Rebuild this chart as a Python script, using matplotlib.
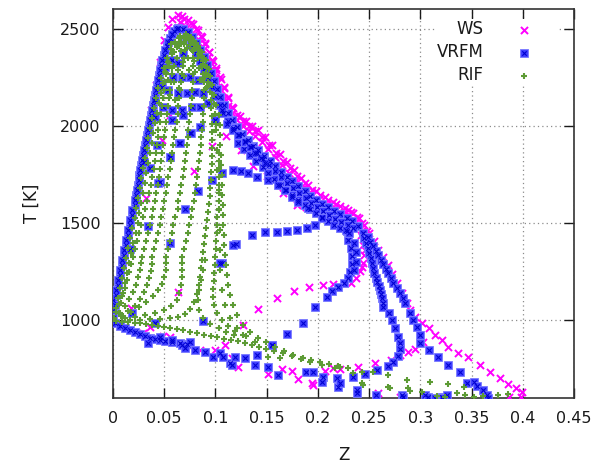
import numpy as np
import matplotlib
matplotlib.use("Agg")
import matplotlib.pyplot as plt
from matplotlib.legend_handler import HandlerTuple

plt.rcParams['font.family'] = ['DejaVu Sans']

# ---------------- WS ----------------
ws_edge = [(0.000, 1010), (0.005, 1155), (0.011, 1309), (0.017, 1464), (0.022, 1619),
           (0.027, 1773), (0.032, 1928), (0.037, 2083), (0.042, 2211), (0.046, 2330),
           (0.050, 2443), (0.054, 2510), (0.058, 2552), (0.063, 2572), (0.067, 2567),
           (0.073, 2547), (0.078, 2526), (0.083, 2495), (0.087, 2459), (0.090, 2428),
           (0.094, 2381), (0.097, 2340), (0.101, 2299), (0.104, 2253), (0.108, 2201),
           (0.112, 2150), (0.117, 2093), (0.124, 2052), (0.130, 2026), (0.136, 2000),
           (0.142, 1979), (0.148, 1943), (0.155, 1902), (0.163, 1856), (0.170, 1815),
           (0.177, 1773), (0.184, 1732), (0.190, 1696), (0.198, 1665), (0.207, 1634),
           (0.215, 1608), (0.222, 1588), (0.229, 1567), (0.234, 1552), (0.240, 1526),
           (0.245, 1490), (0.250, 1448), (0.255, 1407), (0.259, 1361), (0.264, 1325),
           (0.268, 1284), (0.272, 1237), (0.277, 1191), (0.282, 1139), (0.287, 1087),
           (0.290, 1052), (0.295, 1015), (0.302, 985), (0.308, 959), (0.314, 923),
           (0.321, 897), (0.327, 861), (0.337, 830), (0.347, 809), (0.358, 768),
           (0.368, 732), (0.378, 701), (0.386, 670), (0.393, 649), (0.399, 629)]
ws_mid = [(0.069, 2550), (0.076, 2530), (0.081, 2500), (0.086, 2462), (0.090, 2420),
          (0.094, 2378), (0.098, 2332), (0.101, 2290), (0.105, 2243), (0.108, 2194),
          (0.112, 2142), (0.116, 2095), (0.121, 2055), (0.127, 2024), (0.133, 1998),
          (0.139, 1974), (0.145, 1942), (0.152, 1903), (0.159, 1862), (0.166, 1822),
          (0.173, 1781), (0.180, 1742), (0.187, 1705), (0.194, 1672), (0.202, 1645),
          (0.210, 1620), (0.218, 1597), (0.226, 1577), (0.232, 1556), (0.238, 1530),
          (0.243, 1498), (0.248, 1460)]
ws_inner = [(0.065, 2536), (0.070, 2516), (0.075, 2495), (0.080, 2464), (0.084, 2428),
            (0.088, 2392), (0.092, 2351), (0.095, 2309), (0.099, 2268), (0.102, 2227),
            (0.105, 2186), (0.108, 2144), (0.112, 2103), (0.116, 2067), (0.121, 2031),
            (0.127, 2000), (0.133, 1974), (0.139, 1948), (0.145, 1918), (0.151, 1882),
            (0.158, 1840), (0.165, 1799), (0.172, 1758), (0.179, 1722), (0.186, 1686),
            (0.193, 1655), (0.201, 1624), (0.209, 1598), (0.217, 1577), (0.225, 1557),
            (0.231, 1536), (0.237, 1505)]
ws_loop = [(0.239, 1485), (0.242, 1438), (0.244, 1387), (0.245, 1335), (0.244, 1294),
           (0.241, 1253), (0.237, 1217), (0.232, 1191), (0.243, 1460), (0.246, 1360),
           (0.243, 1272)]
ws_low = [(0.222, 747), (0.239, 758), (0.256, 778), (0.271, 794), (0.280, 820),
          (0.288, 835), (0.295, 850), (0.303, 887)]
ws_scatter = [(0.048, 1928), (0.056, 2057), (0.097, 1897), (0.079, 1768), (0.032, 1629),
              (0.063, 1144), (0.018, 1062), (0.110, 1948), (0.125, 1876), (0.137, 1794),
              (0.150, 1742), (0.166, 1655), (0.180, 1593), (0.188, 1583), (0.127, 974),
              (0.142, 1057), (0.160, 1113), (0.177, 1150), (0.191, 1170), (0.205, 1180),
              (0.215, 1186), (0.029, 933), (0.049, 918), (0.075, 861), (0.085, 845),
              (0.100, 845), (0.109, 871), (0.116, 804), (0.122, 758), (0.151, 722),
              (0.165, 747), (0.175, 737), (0.181, 696), (0.194, 675), (0.207, 737),
              (0.215, 753), (0.195, 665), (0.259, 624), (0.280, 603), (0.387, 603),
              (0.398, 603), (0.036, 964), (0.056, 912)]

# ---------------- VRFM ----------------
vr_edge = [(0.000, 1103), (0.000, 1052), (0.000, 1010), (0.002, 1077), (0.003, 1129),
           (0.005, 1180), (0.007, 1232), (0.009, 1284), (0.011, 1335), (0.013, 1387),
           (0.015, 1438), (0.017, 1490), (0.019, 1541), (0.021, 1593), (0.022, 1644),
           (0.024, 1696), (0.025, 1748), (0.027, 1799), (0.029, 1851), (0.031, 1902),
           (0.033, 1954), (0.035, 2005), (0.037, 2057), (0.039, 2108), (0.041, 2160),
           (0.043, 2211), (0.045, 2263), (0.047, 2315), (0.050, 2366), (0.053, 2412),
           (0.056, 2454), (0.060, 2490), (0.063, 2505), (0.068, 2500), (0.073, 2485),
           (0.077, 2459), (0.081, 2428), (0.085, 2392), (0.089, 2356), (0.092, 2315),
           (0.096, 2273), (0.099, 2232), (0.102, 2191), (0.104, 2150), (0.108, 2108),
           (0.112, 2067), (0.116, 2031), (0.121, 1995), (0.126, 1959), (0.132, 1928),
           (0.137, 1897), (0.142, 1876), (0.147, 1845), (0.153, 1820), (0.158, 1794),
           (0.164, 1763), (0.170, 1737), (0.175, 1717), (0.181, 1691), (0.187, 1665),
           (0.192, 1639), (0.198, 1619), (0.204, 1598), (0.210, 1583), (0.216, 1562),
           (0.222, 1546), (0.228, 1526), (0.233, 1510), (0.239, 1485)]
vr_edge2 = [(0.003, 1155), (0.005, 1206), (0.007, 1258), (0.009, 1309), (0.011, 1361),
            (0.013, 1412), (0.015, 1464), (0.017, 1516), (0.019, 1567), (0.021, 1619),
            (0.023, 1670), (0.025, 1722), (0.026, 1773), (0.028, 1825), (0.030, 1876),
            (0.032, 1928), (0.034, 1979), (0.036, 2031), (0.038, 2083), (0.040, 2134),
            (0.042, 2186), (0.044, 2237), (0.046, 2289), (0.048, 2340), (0.051, 2390),
            (0.054, 2433), (0.058, 2472), (0.062, 2497)]
vr_band2 = [(0.071, 2454), (0.076, 2418), (0.081, 2376), (0.085, 2335), (0.089, 2294),
            (0.093, 2247), (0.097, 2201), (0.100, 2155), (0.104, 2108), (0.107, 2067),
            (0.112, 2026), (0.117, 1990), (0.123, 1954), (0.129, 1923), (0.135, 1892),
            (0.141, 1861), (0.146, 1830), (0.152, 1799), (0.158, 1768), (0.164, 1737),
            (0.170, 1706), (0.176, 1680), (0.182, 1655), (0.188, 1629), (0.193, 1603),
            (0.199, 1583), (0.205, 1562), (0.211, 1541), (0.217, 1521), (0.223, 1505),
            (0.229, 1490), (0.234, 1474)]
vr_band3 = [(0.122, 1912), (0.128, 1882), (0.134, 1851), (0.140, 1820), (0.146, 1789),
            (0.151, 1758), (0.157, 1727), (0.163, 1696), (0.169, 1670), (0.175, 1644),
            (0.181, 1619), (0.187, 1593), (0.192, 1572), (0.198, 1552), (0.204, 1531),
            (0.210, 1510), (0.216, 1490), (0.222, 1474), (0.228, 1459)]
vr_inner1 = [(0.106, 2083), (0.111, 2010), (0.117, 1979), (0.122, 1954), (0.129, 1918),
             (0.134, 1892), (0.139, 1861), (0.144, 1835), (0.148, 1809)]
vr_inner2 = [(0.046, 1711), (0.056, 1840), (0.064, 1912), (0.075, 1964), (0.085, 1995),
             (0.083, 1665), (0.097, 1722), (0.106, 1758), (0.117, 1773), (0.125, 1768),
             (0.132, 1758), (0.141, 1737), (0.151, 1722), (0.161, 1696), (0.168, 1670),
             (0.175, 1634), (0.181, 1608), (0.190, 1577)]
vr_branch = [(0.204, 1526), (0.197, 1490), (0.189, 1474), (0.180, 1464), (0.170, 1459),
             (0.160, 1454), (0.148, 1454), (0.136, 1438), (0.120, 1392), (0.106, 1294)]
vr_loop = [(0.227, 1464), (0.229, 1412), (0.232, 1371), (0.233, 1330), (0.233, 1289),
           (0.231, 1247), (0.229, 1217), (0.225, 1191), (0.220, 1170), (0.214, 1150),
           (0.230, 1448), (0.235, 1397), (0.237, 1351), (0.237, 1299), (0.235, 1258),
           (0.209, 1118), (0.197, 1067), (0.185, 985), (0.170, 928), (0.155, 871)]
vr_mid = [(0.244, 1448), (0.245, 1423), (0.247, 1397), (0.249, 1371), (0.250, 1345),
          (0.252, 1320), (0.253, 1294), (0.254, 1268), (0.255, 1242), (0.257, 1219),
          (0.258, 1196), (0.260, 1175), (0.261, 1155), (0.262, 1134), (0.263, 1113),
          (0.264, 1090), (0.264, 1067), (0.269, 1036), (0.272, 1000), (0.275, 959),
          (0.278, 912), (0.280, 881), (0.280, 850), (0.278, 814), (0.273, 783),
          (0.268, 763), (0.258, 742), (0.246, 722), (0.234, 706)]
vr_outer = [(0.249, 1428), (0.251, 1405), (0.254, 1381), (0.257, 1358), (0.259, 1335),
            (0.262, 1312), (0.264, 1289), (0.266, 1265), (0.268, 1242), (0.271, 1216),
            (0.273, 1191), (0.277, 1165), (0.280, 1139), (0.283, 1113), (0.285, 1087),
            (0.290, 1036), (0.293, 1000), (0.297, 964), (0.300, 923), (0.300, 881),
            (0.308, 845), (0.317, 809), (0.327, 768), (0.339, 732), (0.346, 675),
            (0.352, 680), (0.355, 660), (0.361, 639), (0.365, 613), (0.366, 600)]
vr_low = [(0.002, 985), (0.007, 969), (0.012, 959), (0.017, 948), (0.021, 938),
          (0.026, 928), (0.031, 918), (0.036, 907), (0.041, 902), (0.046, 897),
          (0.051, 892), (0.058, 887), (0.065, 881), (0.072, 876), (0.034, 881),
          (0.046, 912), (0.058, 897), (0.067, 871), (0.075, 887), (0.070, 856),
          (0.080, 845), (0.090, 835), (0.098, 809), (0.104, 830), (0.114, 778),
          (0.107, 809), (0.019, 1036), (0.041, 985), (0.088, 995)]
vr_bottom = [(0.116, 768), (0.119, 809), (0.129, 804), (0.139, 768), (0.141, 820),
             (0.151, 758), (0.155, 871), (0.161, 716), (0.188, 732), (0.195, 732),
             (0.205, 706), (0.219, 701), (0.220, 655), (0.222, 675), (0.238, 639),
             (0.238, 624), (0.257, 613), (0.282, 613), (0.283, 603), (0.305, 613),
             (0.307, 603), (0.314, 600), (0.321, 603), (0.326, 613), (0.322, 600),
             (0.204, 680)]
vr_dome = [(0.076, 1964), (0.065, 1912), (0.043, 1902), (0.056, 1840), (0.036, 1784),
           (0.030, 1815), (0.044, 1706), (0.070, 1572), (0.034, 1485), (0.056, 1397),
           (0.017, 1366), (0.117, 1387), (0.104, 1294), (0.051, 2304), (0.058, 2340),
           (0.063, 2325), (0.068, 2376), (0.059, 2253), (0.067, 2253), (0.075, 2253),
           (0.083, 2237), (0.048, 2201), (0.054, 2186), (0.063, 2170), (0.072, 2170),
           (0.080, 2175), (0.088, 2170), (0.041, 2134), (0.049, 2098), (0.058, 2083),
           (0.067, 2083), (0.077, 2098), (0.085, 2098), (0.093, 2119), (0.041, 2046),
           (0.058, 2031), (0.068, 2057), (0.100, 2031)]

# ---------------- RIF ----------------
rif_edge = [(0.001, 1010), (0.003, 1062), (0.005, 1113), (0.007, 1165), (0.009, 1217),
            (0.011, 1268), (0.013, 1320), (0.015, 1371), (0.017, 1423), (0.019, 1474),
            (0.021, 1526), (0.022, 1577), (0.024, 1629), (0.026, 1680), (0.027, 1732),
            (0.029, 1784), (0.031, 1835), (0.033, 1887), (0.034, 1938), (0.036, 1990),
            (0.038, 2041), (0.040, 2093), (0.042, 2144), (0.044, 2196), (0.047, 2247),
            (0.050, 2299), (0.053, 2351), (0.057, 2397), (0.061, 2433), (0.065, 2464),
            (0.071, 2474), (0.076, 2459), (0.081, 2428), (0.085, 2392), (0.089, 2351),
            (0.092, 2304), (0.095, 2258), (0.097, 2211), (0.099, 2160), (0.101, 2108),
            (0.103, 2057), (0.104, 2005), (0.104, 1954), (0.104, 1902), (0.105, 1851),
            (0.105, 1799), (0.106, 1748), (0.106, 1696), (0.106, 1644), (0.107, 1593),
            (0.107, 1541), (0.107, 1490), (0.108, 1438), (0.108, 1387), (0.109, 1335),
            (0.110, 1284), (0.111, 1232), (0.112, 1180), (0.114, 1129), (0.117, 1077),
            (0.121, 1026), (0.127, 974), (0.134, 938), (0.142, 907), (0.149, 887),
            (0.158, 861), (0.167, 840), (0.176, 820), (0.185, 804), (0.193, 794),
            (0.202, 783), (0.211, 773), (0.220, 763), (0.229, 753)]
rif_edge2 = [(0.006, 1036), (0.008, 1087), (0.010, 1139), (0.012, 1191), (0.014, 1242),
             (0.016, 1294), (0.018, 1345), (0.020, 1397), (0.022, 1448), (0.024, 1500),
             (0.025, 1551), (0.027, 1603), (0.029, 1655), (0.031, 1706), (0.032, 1758),
             (0.034, 1809), (0.036, 1861), (0.038, 1912), (0.039, 1964), (0.041, 2015),
             (0.043, 2067), (0.045, 2119), (0.047, 2170), (0.049, 2222), (0.052, 2273),
             (0.055, 2325), (0.058, 2376), (0.062, 2418), (0.066, 2451), (0.071, 2462),
             (0.075, 2448), (0.079, 2424), (0.083, 2390), (0.087, 2350), (0.090, 2306),
             (0.093, 2260), (0.095, 2214), (0.097, 2164), (0.099, 2112), (0.100, 2060),
             (0.101, 2008)]
rif_right2 = [(0.101, 1979), (0.102, 1876), (0.102, 1773), (0.103, 1670), (0.103, 1567),
              (0.104, 1464), (0.104, 1361), (0.104, 1258), (0.106, 1155), (0.109, 1077),
              (0.114, 1010), (0.121, 959), (0.130, 918), (0.139, 887)]
rif_bottom = [(0.003, 995), (0.009, 990), (0.015, 990), (0.021, 985), (0.026, 985),
              (0.032, 979), (0.038, 974), (0.044, 969), (0.050, 964), (0.056, 959),
              (0.062, 954), (0.068, 948), (0.075, 938), (0.082, 933), (0.089, 923),
              (0.096, 918), (0.102, 912), (0.108, 902), (0.115, 897), (0.122, 892),
              (0.129, 881), (0.136, 871), (0.143, 861), (0.149, 850), (0.157, 840),
              (0.166, 830), (0.175, 814), (0.184, 799), (0.192, 783), (0.204, 768),
              (0.217, 753)]
rif_a = [(0.003, 1041), (0.006, 1082), (0.009, 1124), (0.012, 1165), (0.014, 1206),
         (0.016, 1247), (0.018, 1289), (0.020, 1325), (0.021, 1366), (0.023, 1407),
         (0.025, 1448), (0.027, 1490), (0.029, 1531), (0.031, 1572), (0.033, 1613),
         (0.035, 1655), (0.037, 1696), (0.038, 1737), (0.040, 1778), (0.041, 1820),
         (0.042, 1861), (0.043, 1902), (0.044, 1943), (0.044, 1979), (0.046, 2021),
         (0.047, 2062), (0.048, 2103), (0.049, 2144), (0.050, 2186), (0.051, 2227),
         (0.052, 2268), (0.054, 2309)]
rif_b = [(0.007, 1036), (0.012, 1072), (0.016, 1108), (0.020, 1144), (0.022, 1180),
         (0.024, 1222), (0.026, 1258), (0.027, 1294), (0.028, 1325), (0.030, 1366),
         (0.032, 1407), (0.034, 1448), (0.036, 1490), (0.038, 1531), (0.039, 1572),
         (0.041, 1613), (0.042, 1655), (0.044, 1696), (0.045, 1737), (0.046, 1778),
         (0.047, 1820), (0.048, 1861), (0.049, 1902), (0.050, 1943), (0.051, 1979),
         (0.052, 2021), (0.053, 2062), (0.054, 2103), (0.055, 2144), (0.056, 2186),
         (0.057, 2227), (0.058, 2268), (0.060, 2309), (0.062, 2351)]
rif_c = [(0.008, 1021), (0.015, 1046), (0.021, 1072), (0.026, 1108), (0.030, 1144),
         (0.033, 1180), (0.035, 1217), (0.037, 1253), (0.038, 1289), (0.038, 1325),
         (0.040, 1366), (0.042, 1407), (0.044, 1448), (0.046, 1490), (0.047, 1531),
         (0.049, 1572), (0.050, 1613), (0.052, 1655), (0.053, 1696), (0.054, 1737),
         (0.056, 1778), (0.057, 1820), (0.058, 1861), (0.059, 1902), (0.060, 1943),
         (0.061, 1979), (0.062, 2021), (0.063, 2062), (0.063, 2103), (0.064, 2144),
         (0.065, 2186), (0.066, 2227), (0.067, 2268), (0.068, 2309), (0.069, 2351),
         (0.070, 2392)]
rif_d = [(0.010, 1021), (0.018, 1041), (0.025, 1067), (0.032, 1093), (0.039, 1124),
         (0.044, 1155), (0.048, 1186), (0.050, 1222), (0.052, 1258), (0.052, 1294),
         (0.052, 1325), (0.054, 1366), (0.056, 1407), (0.058, 1448), (0.059, 1490),
         (0.061, 1531), (0.063, 1572), (0.063, 1613), (0.065, 1655), (0.066, 1696),
         (0.068, 1737), (0.069, 1778), (0.070, 1820), (0.071, 1861), (0.072, 1902),
         (0.073, 1943), (0.073, 1979), (0.074, 2021), (0.075, 2062), (0.076, 2103),
         (0.077, 2144), (0.077, 2186), (0.078, 2227), (0.078, 2268), (0.078, 2309),
         (0.078, 2351), (0.077, 2392)]
rif_e = [(0.012, 1010), (0.021, 1015), (0.031, 1026), (0.041, 1036), (0.050, 1052),
         (0.057, 1072), (0.062, 1103), (0.064, 1139), (0.066, 1180), (0.067, 1222),
         (0.067, 1258), (0.067, 1294), (0.067, 1325), (0.069, 1366), (0.071, 1407),
         (0.073, 1448), (0.074, 1490), (0.076, 1531), (0.077, 1572), (0.079, 1613),
         (0.080, 1655), (0.081, 1696), (0.082, 1737), (0.083, 1778), (0.084, 1820),
         (0.085, 1861), (0.086, 1902), (0.086, 1943), (0.087, 1979), (0.088, 2021),
         (0.088, 2062), (0.089, 2103), (0.089, 2144), (0.089, 2186), (0.089, 2227),
         (0.088, 2268), (0.087, 2309)]
rif_f = [(0.017, 1000), (0.026, 1000), (0.036, 1005), (0.046, 1005), (0.056, 1010),
         (0.063, 1015), (0.070, 1031), (0.075, 1057), (0.079, 1093), (0.082, 1134),
         (0.084, 1180), (0.085, 1222), (0.086, 1268), (0.087, 1309), (0.088, 1351),
         (0.089, 1392), (0.090, 1433), (0.091, 1474), (0.092, 1516), (0.093, 1557),
         (0.094, 1598), (0.095, 1639), (0.095, 1680), (0.096, 1722), (0.096, 1763),
         (0.097, 1804), (0.097, 1845), (0.097, 1887), (0.097, 1928), (0.097, 1969),
         (0.097, 2010), (0.097, 2052), (0.096, 2093), (0.096, 2134), (0.095, 2175),
         (0.094, 2217)]
rif_g = [(0.127, 923), (0.119, 943), (0.112, 969), (0.106, 1000), (0.102, 1036),
         (0.099, 1077), (0.098, 1118), (0.098, 1160), (0.099, 1201), (0.099, 1242),
         (0.100, 1284), (0.100, 1325), (0.101, 1366), (0.101, 1407), (0.102, 1448),
         (0.102, 1490), (0.102, 1531), (0.103, 1572), (0.103, 1613), (0.103, 1655),
         (0.103, 1696), (0.103, 1737), (0.103, 1778), (0.103, 1820), (0.103, 1861)]
rif_h = [(0.090, 1309), (0.088, 1258), (0.086, 1206), (0.084, 1155), (0.083, 1103),
         (0.084, 1052), (0.088, 1010), (0.095, 979), (0.103, 959), (0.110, 938),
         (0.118, 923)]
rif_arcs = [(0.051, 2278), (0.054, 2330), (0.058, 2371), (0.062, 2407), (0.066, 2433),
            (0.071, 2443), (0.076, 2433), (0.081, 2402), (0.085, 2361), (0.088, 2320),
            (0.091, 2273), (0.093, 2227),
            (0.054, 2237), (0.058, 2299), (0.062, 2351), (0.066, 2387), (0.072, 2402),
            (0.078, 2387), (0.083, 2351), (0.087, 2304), (0.090, 2253), (0.092, 2201),
            (0.056, 2160), (0.060, 2227), (0.063, 2289), (0.068, 2330), (0.073, 2351),
            (0.079, 2335), (0.084, 2299), (0.088, 2247), (0.091, 2196),
            (0.061, 2134), (0.064, 2196), (0.069, 2258), (0.074, 2289), (0.080, 2278),
            (0.085, 2237), (0.089, 2186),
            (0.057, 2420), (0.064, 2450), (0.069, 2458), (0.074, 2455), (0.079, 2437),
            (0.083, 2410), (0.087, 2378), (0.091, 2338), (0.094, 2293),
            (0.060, 2380), (0.064, 2412), (0.069, 2420), (0.075, 2416), (0.080, 2395),
            (0.084, 2368), (0.088, 2335)]
rif_tail = [(0.222, 758), (0.234, 727), (0.243, 732), (0.254, 732), (0.268, 716),
            (0.243, 675), (0.268, 655), (0.244, 665), (0.270, 649), (0.290, 634),
            (0.302, 629), (0.309, 680), (0.316, 608), (0.324, 603), (0.327, 670),
            (0.336, 624), (0.343, 655), (0.344, 613), (0.352, 603), (0.361, 608),
            (0.376, 613), (0.386, 619), (0.287, 691), (0.288, 649), (0.151, 809),
            (0.163, 804)]


def stack(*curves):
    pts = np.array([p for c in curves for p in c], dtype=float)
    return pts[:, 0], pts[:, 1]


ws_z, ws_t = stack(ws_edge, ws_mid, ws_inner, ws_loop, ws_low, ws_scatter)
vr_z, vr_t = stack(vr_edge, vr_edge2, vr_band2, vr_band3, vr_inner1, vr_inner2,
                   vr_branch, vr_loop, vr_mid, vr_outer, vr_low, vr_bottom, vr_dome)
rif_z, rif_t = stack(rif_edge, rif_edge2, rif_right2, rif_bottom, rif_a, rif_b, rif_c,
                     rif_d, rif_e, rif_f, rif_g, rif_h, rif_arcs, rif_tail)

fig = plt.figure(figsize=(5.96, 4.68), dpi=100)
ax = fig.add_axes([113 / 596, 1 - 398 / 468, 461 / 596, 388.7 / 468])

magenta = '#ff00ff'
blue_face = '#4040ff'
blue_dark = '#0000d0'
green = '#5d9b35'

h_ws = ax.scatter(ws_z, ws_t, marker='x', s=26, linewidths=1.4, color=magenta, zorder=3)
h_vr = ax.scatter(vr_z, vr_t, marker='s', s=34, facecolor=blue_face,
                  edgecolor='#7a7aff', linewidths=0.6, zorder=4)
h_vr2 = ax.scatter(vr_z, vr_t, marker='x', s=10, linewidths=0.8, color=blue_dark, zorder=4)
h_rif = ax.scatter(rif_z, rif_t, marker='+', s=20, linewidths=1.5, color=green, zorder=5)

ax.set_xlim(0, 0.45)
ax.set_ylim(600, 2600)
xt = np.arange(0, 0.451, 0.05)
ax.set_xticks(xt)
ax.set_xticklabels(['0', '0.05', '0.1', '0.15', '0.2', '0.25', '0.3', '0.35', '0.4', '0.45'])
ax.set_yticks([1000, 1500, 2000, 2500])

ax.grid(True, color='#8c8c8c', linestyle=(0, (1, 2.5)), linewidth=0.9)
ax.set_axisbelow(True)
ax.tick_params(direction='in', length=7, width=1, top=True, right=True,
               labelsize=11.5, colors='#1a1a1a')
ax.tick_params(axis='x', pad=9.5)
ax.tick_params(axis='y', pad=9)
for sp in ax.spines.values():
    sp.set_color('#333333')
    sp.set_linewidth(1.2)

ax.set_xlabel('Z', fontsize=12, color='#1a1a1a', labelpad=14)
ax.set_ylabel('T [K]', fontsize=12, color='#1a1a1a', labelpad=14)

leg = ax.legend([h_ws, (h_vr, h_vr2), h_rif], ['WS', 'VRFM', 'RIF'],
                handler_map={tuple: HandlerTuple(ndivide=1)},
                markerfirst=False, loc='upper right',
                bbox_to_anchor=(566 / 596, 1 - 11 / 468), bbox_transform=fig.transFigure,
                fontsize=12, handlelength=4, handletextpad=0.4, labelspacing=0.3,
                borderpad=0.05, frameon=True, fancybox=False, framealpha=1,
                facecolor='white', edgecolor='none', scatterpoints=1)
for t in leg.get_texts():
    t.set_color('#1a1a1a')

fig.savefig('out.png', dpi=100)
